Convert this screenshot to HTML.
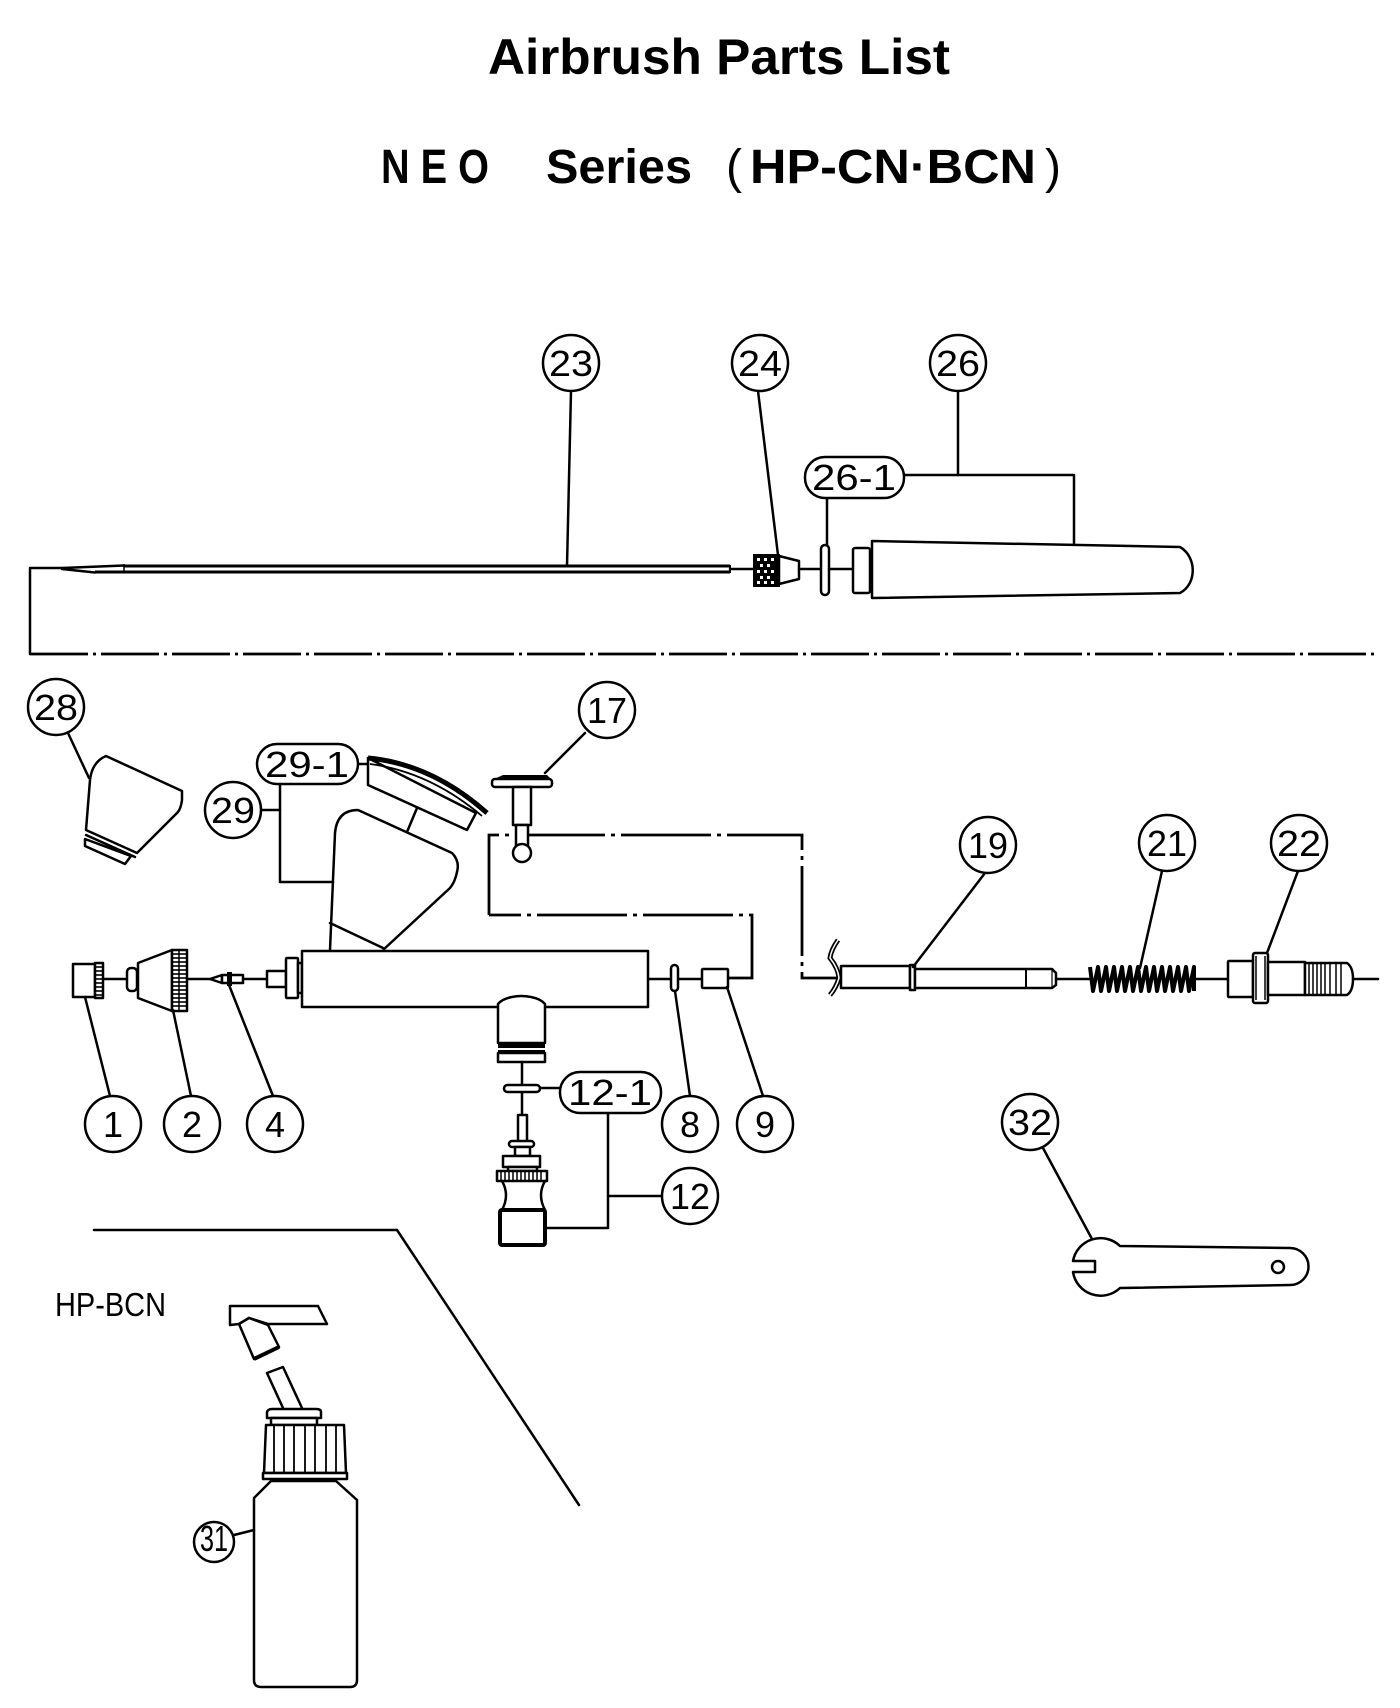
<!DOCTYPE html>
<html><head><meta charset="utf-8"><style>
html,body{margin:0;padding:0;background:#fff;}
svg{display:block;}
.s{fill:none;stroke:#000;stroke-width:2.5;stroke-linejoin:round;stroke-linecap:round;}
.w{fill:#fff;stroke:#000;stroke-width:2.5;stroke-linejoin:round;}
.b{fill:#fff;stroke:#000;stroke-width:2.5;}
.t{font-family:"Liberation Sans",sans-serif;font-size:36px;text-anchor:middle;fill:#000;}
.dd{fill:none;stroke:#000;stroke-width:2.8;stroke-dasharray:58 5 3 5;}
.fr{fill:none;stroke:#000;stroke-width:2.8;stroke-dasharray:90 6 4 6;}
</style></head><body>
<svg width="1400" height="1708" viewBox="0 0 1400 1708" xmlns="http://www.w3.org/2000/svg">
<rect width="1400" height="1708" fill="#fff"/>
<!-- Titles -->
<text x="488" y="74" font-family="Liberation Sans, sans-serif" font-weight="bold" font-size="50" textLength="462" lengthAdjust="spacingAndGlyphs">Airbrush  Parts  List</text>
<text x="381" y="183" font-family="Liberation Sans, sans-serif" font-weight="bold" font-size="48" textLength="108" lengthAdjust="spacingAndGlyphs">N E O</text>
<text x="546" y="183" font-family="Liberation Sans, sans-serif" font-weight="bold" font-size="48" textLength="146" lengthAdjust="spacingAndGlyphs">Series</text>
<text x="726" y="183" font-family="Liberation Sans, sans-serif" font-size="48" textLength="16" lengthAdjust="spacingAndGlyphs">(</text>
<text x="750" y="183" font-family="Liberation Sans, sans-serif" font-weight="bold" font-size="48" textLength="286" lengthAdjust="spacingAndGlyphs">HP-CN·BCN</text>
<text x="1045" y="183" font-family="Liberation Sans, sans-serif" font-size="48" textLength="16" lengthAdjust="spacingAndGlyphs">)</text>

<!-- ===== Top: needle group ===== -->
<!-- bracket -->
<polyline class="s" points="62,568 30,568 30,654" />
<line x1="30" y1="654" x2="1379" y2="654" class="dd"/>
<!-- needle 23 -->
<path class="s" d="M62,568 L124,565.5 M62,569 L95,572.5"/>
<line x1="124" y1="566" x2="730" y2="566" stroke="#000" stroke-width="3"/>
<line x1="95" y1="572" x2="730" y2="572" stroke="#000" stroke-width="3"/>
<line x1="124" y1="564" x2="124" y2="572" stroke="#000" stroke-width="1.5"/>
<line x1="730" y1="565" x2="730" y2="573" stroke="#000" stroke-width="2"/>
<line x1="730" y1="569" x2="754" y2="569" class="s"/>
<!-- 24 nozzle -->
<rect x="754" y="555" width="25" height="31" fill="#000" stroke="#000" stroke-width="2"/>
<g fill="#fff">
<rect x="757" y="558" width="3" height="3"/><rect x="764" y="558" width="3" height="3"/><rect x="771" y="558" width="3" height="3"/>
<rect x="760" y="564" width="3" height="3"/><rect x="767" y="564" width="3" height="3"/>
<rect x="757" y="570" width="3" height="3"/><rect x="764" y="570" width="3" height="3"/><rect x="771" y="570" width="3" height="3"/>
<rect x="760" y="576" width="3" height="3"/><rect x="767" y="576" width="3" height="3"/>
<rect x="757" y="581" width="3" height="3"/><rect x="764" y="581" width="3" height="3"/><rect x="771" y="581" width="3" height="3"/>
</g>
<polygon class="w" points="779,556 799,561 799,579 779,584"/>
<line x1="799" y1="569" x2="821" y2="569" class="s"/>
<rect x="821" y="545" width="8" height="50" rx="4" class="w"/>
<line x1="829" y1="569" x2="853" y2="569" class="s"/>
<rect x="853" y="548" width="17" height="45" rx="2" class="w"/>
<path class="w" d="M872,541 L1180,547 C1197,557 1197,584 1180,593 L872,598 Z"/>
<!-- leaders top -->
<line x1="571" y1="391" x2="567" y2="566" class="s"/>
<line x1="758" y1="391" x2="778" y2="555" class="s"/>
<polyline class="s" points="958,391 958,475"/>
<polyline class="s" points="904,475 1074,475 1074,543"/>
<line x1="827" y1="498" x2="827" y2="545" class="s"/>

<!-- ===== 17 frame lines ===== -->
<polyline class="fr" points="489,915 489,835 802,835 802,978 840,978"/>
<polyline class="fr" points="728,978 752,978 752,915 489,915"/>

<!-- ===== Cup 28 ===== -->
<line x1="68" y1="733" x2="89" y2="778" class="s"/>
<path class="w" d="M90,780 Q92,762 106,756 L182,791 L182,800 Q181,808 178,812 L137,853 L86,830 Z"/>
<line x1="86" y1="835" x2="135" y2="857" class="s"/>
<polygon class="w" points="85,839 85,846 125,864 131,856"/>

<!-- ===== Cup 29 + lid ===== -->
<path class="w" d="M330,950 L335,833 Q337,810 358,810 L452,853 Q460,861 457,872 Q455,882 450,888 L383,950"/>
<line x1="330" y1="923" x2="383" y2="948" class="s"/>
<line x1="417" y1="808" x2="407" y2="832" class="s"/>
<polygon class="w" points="368,758 368,785 467,830 476,813"/>
<path d="M368,758 Q432,764 487,813" fill="none" stroke="#000" stroke-width="5"/>
<path d="M370,764 Q430,772 482,816" fill="none" stroke="#000" stroke-width="1.8"/>
<line x1="358" y1="764" x2="368" y2="764" class="s"/>
<polyline class="s" points="261,810 280,810"/>
<polyline class="s" points="280,784 280,882 333,882"/>

<!-- ===== 17 button ===== -->
<line x1="585" y1="733" x2="545" y2="773" class="s"/>
<polygon points="503,775 547,775 552,780 492,780" fill="#000"/>
<rect x="492" y="779" width="60" height="8" rx="3" class="w"/>
<rect x="513" y="787" width="18" height="38" class="w"/>
<rect x="516" y="825" width="12" height="22" class="w"/>
<circle cx="522" cy="853" r="9" class="w"/>

<!-- ===== Main body ===== -->
<line x1="103" y1="979" x2="127" y2="979" class="s"/>
<line x1="187" y1="979" x2="210" y2="979" class="s"/>
<line x1="243" y1="979" x2="267" y2="979" class="s"/>
<line x1="648" y1="979" x2="671" y2="979" class="s"/>
<line x1="678" y1="979" x2="702" y2="979" class="s"/>
<!-- part 1 -->
<rect x="73" y="964" width="22" height="33" class="w"/>
<rect x="95" y="963" width="8" height="35" class="w"/>
<g stroke="#000" stroke-width="1.6">
<line x1="95" y1="967" x2="103" y2="967"/><line x1="95" y1="971" x2="103" y2="971"/><line x1="95" y1="975" x2="103" y2="975"/><line x1="95" y1="979" x2="103" y2="979"/><line x1="95" y1="983" x2="103" y2="983"/><line x1="95" y1="987" x2="103" y2="987"/><line x1="95" y1="991" x2="103" y2="991"/><line x1="95" y1="995" x2="103" y2="995"/>
</g>
<rect x="127" y="968" width="10" height="23" rx="4" class="w"/>
<!-- part 2 -->
<polygon class="w" points="138,963 172,950 172,1011 138,998"/>
<rect x="172" y="950" width="15" height="61" class="w"/>
<line x1="179" y1="950" x2="179" y2="1011" stroke="#000" stroke-width="1.5"/>
<g stroke="#000" stroke-width="1.6">
<line x1="172" y1="954" x2="187" y2="954"/><line x1="172" y1="958" x2="187" y2="958"/><line x1="172" y1="962" x2="187" y2="962"/><line x1="172" y1="966" x2="187" y2="966"/><line x1="172" y1="970" x2="187" y2="970"/><line x1="172" y1="974" x2="187" y2="974"/><line x1="172" y1="978" x2="187" y2="978"/><line x1="172" y1="982" x2="187" y2="982"/><line x1="172" y1="986" x2="187" y2="986"/><line x1="172" y1="990" x2="187" y2="990"/><line x1="172" y1="994" x2="187" y2="994"/><line x1="172" y1="998" x2="187" y2="998"/><line x1="172" y1="1002" x2="187" y2="1002"/><line x1="172" y1="1006" x2="187" y2="1006"/>
</g>
<!-- part 4 -->
<polygon class="w" points="210,979 222,975 222,983"/>
<rect x="222" y="975" width="21" height="8" class="w"/>
<rect x="227" y="972" width="5" height="14" fill="#000"/>
<!-- front fitting -->
<rect x="267" y="971" width="19" height="16" class="w"/>
<rect x="286" y="958" width="12" height="40" rx="1" class="w"/>
<rect x="298" y="963" width="4" height="30" class="w"/>
<rect x="302" y="951" width="346" height="56" class="w"/>
<!-- 8, 9 -->
<rect x="671" y="965" width="7" height="26" rx="3.5" class="w"/>
<rect x="702" y="969" width="26" height="19" rx="1" class="w"/>
<!-- bottom fitting -->
<path class="w" d="M498,1043 L498,1004 Q502,999 512,997 Q521,995 531,997 Q541,999 545,1004 L545,1043 Z"/>
<rect x="498" y="1044" width="47" height="4" fill="#000"/>
<rect x="498" y="1050" width="47" height="4" fill="#000"/>
<rect x="498" y="1053" width="47" height="9" class="w"/>
<line x1="522" y1="1062" x2="522" y2="1115" class="s"/>
<rect x="504" y="1085" width="36" height="7" rx="3.5" class="w"/>
<line x1="540" y1="1088" x2="560" y2="1088" class="s"/>
<!-- valve 12 -->
<rect x="518" y="1115" width="9" height="27" class="w"/>
<rect x="509" y="1141" width="25" height="6" rx="3" class="w"/>
<rect x="515" y="1147" width="15" height="9" class="w"/>
<rect x="503" y="1156" width="37" height="11" class="w"/>
<rect x="508" y="1167" width="29" height="4" class="w"/>
<rect x="497" y="1171" width="50" height="10" class="w"/>
<g stroke="#000" stroke-width="1.5">
<line x1="501" y1="1171" x2="501" y2="1181"/><line x1="505" y1="1171" x2="505" y2="1181"/><line x1="509" y1="1171" x2="509" y2="1181"/><line x1="513" y1="1171" x2="513" y2="1181"/><line x1="517" y1="1171" x2="517" y2="1181"/><line x1="521" y1="1171" x2="521" y2="1181"/><line x1="525" y1="1171" x2="525" y2="1181"/><line x1="529" y1="1171" x2="529" y2="1181"/><line x1="533" y1="1171" x2="533" y2="1181"/><line x1="537" y1="1171" x2="537" y2="1181"/><line x1="541" y1="1171" x2="541" y2="1181"/>
</g>
<path class="s" d="M502,1181 Q510,1195 502,1210 M545,1181 Q537,1195 545,1210"/>
<rect x="500" y="1210" width="45" height="35" rx="2" fill="#fff" stroke="#000" stroke-width="4"/>
<polyline class="s" points="608,1113 608,1228 545,1228"/>
<line x1="608" y1="1196" x2="662" y2="1196" class="s"/>

<!-- leaders lower -->
<line x1="85" y1="997" x2="110" y2="1096" class="s"/>
<line x1="173" y1="1010" x2="191" y2="1096" class="s"/>
<line x1="229" y1="985" x2="273" y2="1096" class="s"/>
<line x1="675" y1="991" x2="690" y2="1096" class="s"/>
<line x1="727" y1="987" x2="763" y2="1096" class="s"/>

<!-- ===== 19, 21, 22 ===== -->
<path d="M838,940 Q831,950 830,958 Q838,968 839,978 Q836,988 830,995" fill="none" stroke="#000" stroke-width="5"/>
<path d="M838,940 Q831,950 830,958 Q838,968 839,978 Q836,988 830,995" fill="none" stroke="#fff" stroke-width="1.5"/>
<rect x="841" y="966" width="69" height="22" class="w"/>
<rect x="910" y="965" width="5" height="25" class="w"/>
<path class="w" d="M915,969 L1052,969 L1056,973 L1056,985 L1052,988 L915,988 Z"/>
<line x1="1026" y1="969" x2="1026" y2="988" stroke="#000" stroke-width="2"/>
<line x1="1052" y1="969" x2="1052" y2="988" stroke="#000" stroke-width="1.2"/>
<line x1="985" y1="873" x2="913" y2="967" class="s"/>
<line x1="1056" y1="979" x2="1089" y2="979" class="s"/>
<path d="M1090,967 L1093,991 L1098,967 L1101,991 L1106,967 L1109,991 L1114,967 L1117,991 L1122,967 L1125,991 L1130,967 L1133,991 L1138,967 L1141,991 L1146,967 L1149,991 L1154,967 L1157,991 L1162,967 L1165,991 L1170,967 L1173,991 L1178,967 L1181,991 L1186,967 L1189,991 L1194,967 L1194,991" fill="none" stroke="#000" stroke-width="4" stroke-linejoin="round"/>
<line x1="1162" y1="871" x2="1140" y2="968" class="s"/>
<line x1="1195" y1="979" x2="1228" y2="979" class="s"/>
<rect x="1228" y="961" width="25" height="36" rx="1" class="w"/>
<rect x="1253" y="953" width="15" height="50" rx="2" class="w"/>
<line x1="1256" y1="956" x2="1256" y2="1000" stroke="#000" stroke-width="1.5"/>
<line x1="1265" y1="956" x2="1265" y2="1000" stroke="#000" stroke-width="1.5"/>
<rect x="1268" y="962" width="37" height="33" class="w"/>
<path class="w" d="M1305,963 L1347,963 Q1353,967 1353,979 Q1353,991 1347,995 L1305,995 Z"/>
<g stroke="#000" stroke-width="1.5">
<line x1="1309" y1="963" x2="1309" y2="995"/><line x1="1313" y1="963" x2="1313" y2="995"/><line x1="1317" y1="963" x2="1317" y2="995"/><line x1="1321" y1="963" x2="1321" y2="995"/><line x1="1325" y1="963" x2="1325" y2="995"/><line x1="1330" y1="963" x2="1330" y2="995"/><line x1="1336" y1="963" x2="1336" y2="995"/><line x1="1341" y1="963" x2="1341" y2="995"/>
</g>
<line x1="1353" y1="979" x2="1378" y2="979" class="s"/>
<line x1="1298" y1="871" x2="1267" y2="953" class="s"/>

<!-- ===== Wrench 32 ===== -->
<line x1="1043" y1="1148" x2="1092" y2="1239" class="s"/>
<path class="w" d="M1120,1246 L1290,1248 A18.5,18.5 0 0 1 1290,1285 L1120,1288 A28,28 0 0 1 1073,1272 L1095,1272 L1095,1261 L1073,1261 A28,28 0 0 1 1120,1246 Z"/>
<circle cx="1278" cy="1267" r="6" class="w"/>

<!-- ===== Separator & HP-BCN ===== -->
<polyline class="s" points="94,1230 397,1230 579,1505" stroke-width="3"/>
<text x="55" y="1316" font-family="Liberation Sans, sans-serif" font-size="33" textLength="111" lengthAdjust="spacingAndGlyphs">HP-BCN</text>

<!-- ===== Bottle 31 ===== -->
<polygon class="w" points="230,1306 318,1306 327,1324 268,1324 249,1318 239,1324 230,1325"/>
<polygon class="w" points="239,1324 249,1318 268,1325 279,1347 254,1359"/>
<line x1="279" y1="1347" x2="254" y2="1359" stroke="#000" stroke-width="4"/>
<polyline class="s" points="283,1408 267,1373 283,1367 302,1408"/>
<path class="w" d="M267,1418 L267,1412 Q268,1409 272,1409 L316,1409 Q321,1409 321,1412 L321,1418 Z"/>
<rect x="271" y="1418" width="46" height="7" class="w"/>
<polygon class="w" points="266,1425 344,1425 346,1473 264,1473"/>
<g stroke="#000" stroke-width="1.8">
<line x1="274" y1="1426" x2="274" y2="1473"/><line x1="284" y1="1426" x2="284" y2="1473"/><line x1="294" y1="1426" x2="294" y2="1473"/><line x1="305" y1="1426" x2="305" y2="1473"/><line x1="315" y1="1426" x2="315" y2="1473"/><line x1="326" y1="1426" x2="326" y2="1473"/><line x1="336" y1="1426" x2="336" y2="1473"/>
</g>
<rect x="263" y="1473" width="84" height="6" class="w"/>
<path class="w" d="M271,1481 L254,1498 L254,1680 Q254,1687 261,1687 L350,1687 Q357,1687 357,1680 L357,1500 L336,1481 Z"/>
<line x1="234" y1="1535" x2="254" y2="1530" class="s"/>
<circle cx="214" cy="1542" r="20" class="b"/>
<text x="214" y="1551" class="t" font-size="26" textLength="28" lengthAdjust="spacingAndGlyphs">31</text>

<!-- ===== Balloons ===== -->
<g>
<circle cx="571" cy="363" r="28" class="b"/><text x="571" y="376" class="t" textLength="44" lengthAdjust="spacingAndGlyphs">23</text>
<circle cx="760" cy="363" r="28" class="b"/><text x="760" y="376" class="t" textLength="44" lengthAdjust="spacingAndGlyphs">24</text>
<circle cx="958" cy="363" r="28" class="b"/><text x="958" y="376" class="t" textLength="44" lengthAdjust="spacingAndGlyphs">26</text>
<circle cx="56" cy="707" r="28" class="b"/><text x="56" y="720" class="t" textLength="44" lengthAdjust="spacingAndGlyphs">28</text>
<circle cx="233" cy="810" r="28" class="b"/><text x="233" y="823" class="t" textLength="44" lengthAdjust="spacingAndGlyphs">29</text>
<circle cx="607" cy="710" r="28" class="b"/><text x="607" y="723" class="t" textLength="40" lengthAdjust="spacingAndGlyphs">17</text>
<circle cx="988" cy="845" r="28" class="b"/><text x="988" y="858" class="t" textLength="40" lengthAdjust="spacingAndGlyphs">19</text>
<circle cx="1167" cy="843" r="28" class="b"/><text x="1167" y="856" class="t" textLength="40" lengthAdjust="spacingAndGlyphs">21</text>
<circle cx="1299" cy="843" r="28" class="b"/><text x="1299" y="856" class="t" textLength="44" lengthAdjust="spacingAndGlyphs">22</text>
<circle cx="113" cy="1124" r="28" class="b"/><text x="113" y="1137" class="t">1</text>
<circle cx="192" cy="1124" r="28" class="b"/><text x="192" y="1137" class="t">2</text>
<circle cx="275" cy="1124" r="28" class="b"/><text x="275" y="1137" class="t">4</text>
<circle cx="690" cy="1124" r="28" class="b"/><text x="690" y="1137" class="t">8</text>
<circle cx="765" cy="1124" r="28" class="b"/><text x="765" y="1137" class="t">9</text>
<circle cx="690" cy="1196" r="28" class="b"/><text x="690" y="1209" class="t" textLength="40" lengthAdjust="spacingAndGlyphs">12</text>
<circle cx="1030" cy="1122" r="28" class="b"/><text x="1030" y="1135" class="t" textLength="44" lengthAdjust="spacingAndGlyphs">32</text>
<!-- pills -->
<rect x="805" y="457" width="99" height="41" rx="20" class="b"/><text x="854" y="490" class="t" textLength="84" lengthAdjust="spacingAndGlyphs">26-1</text>
<rect x="257" y="744" width="101" height="40" rx="20" class="b"/><text x="307" y="777" class="t" textLength="84" lengthAdjust="spacingAndGlyphs">29-1</text>
<rect x="560" y="1072" width="101" height="41" rx="20" class="b"/><text x="610" y="1105" class="t" textLength="84" lengthAdjust="spacingAndGlyphs">12-1</text>
</g>
</svg>
</body></html>
